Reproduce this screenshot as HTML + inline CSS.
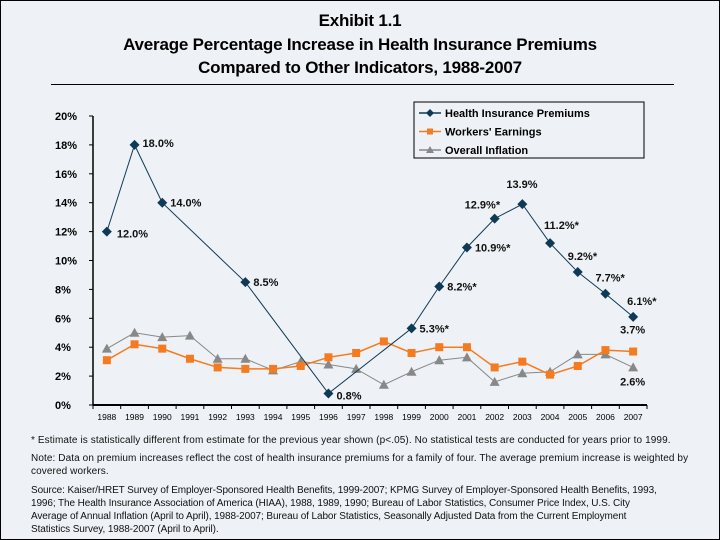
<!DOCTYPE html>
<html><head><meta charset="utf-8"><style>
body{margin:0;background:#fff}
#wrap{position:relative;width:718px;height:538px;border:1px solid #000;background:#eef1f5;font-family:"Liberation Sans",Arial,sans-serif;overflow:hidden}
.t{position:absolute;left:0;width:718px;text-align:center;font-weight:bold;font-size:17px;color:#000;letter-spacing:-0.2px}
.fn{position:absolute;left:30px;width:690px;font-size:10px;line-height:13px;color:#111;letter-spacing:0.1px;white-space:nowrap}
</style></head><body>
<div id="wrap">
<div class="t" style="top:10px">Exhibit 1.1</div>
<div class="t" style="top:34px">Average Percentage Increase in Health Insurance Premiums</div>
<div class="t" style="top:57px">Compared to Other Indicators, 1988-2007</div>
<div style="position:absolute;left:50px;top:83px;width:623px;height:1px;background:#000"></div>
<svg id="chart" width="718" height="430" style="position:absolute;left:0;top:0"></svg>
<div class="fn" style="top:433px">* Estimate is statistically different from estimate for the previous year shown (p&lt;.05). No statistical tests are conducted for years prior to 1999.</div>
<div class="fn" style="top:451px">Note: Data on premium increases reflect the cost of health insurance premiums for a family of four. The average premium increase is weighted by<br>covered workers.</div>
<div class="fn" style="top:483px;letter-spacing:-0.1px">Source: Kaiser/HRET Survey of Employer-Sponsored Health Benefits, 1999-2007; KPMG Survey of Employer-Sponsored Health Benefits, 1993,<br>1996; The Health Insurance Association of America (HIAA), 1988, 1989, 1990; Bureau of Labor Statistics, Consumer Price Index, U.S. City<br>Average of Annual Inflation (April to April), 1988-2007; Bureau of Labor Statistics, Seasonally Adjusted Data from the Current Employment<br>Statistics Survey, 1988-2007 (April to April).</div>
</div>
<script>
const years=[1988,1989,1990,1991,1992,1993,1994,1995,1996,1997,1998,1999,2000,2001,2002,2003,2004,2005,2006,2007];
const premiumYears=[1988,1989,1990,1993,1996,1999,2000,2001,2002,2003,2004,2005,2006,2007];
const premiums=[12.0,18.0,14.0,8.5,0.8,5.3,8.2,10.9,12.9,13.9,11.2,9.2,7.7,6.1];
const premiumStar=[0,0,0,0,0,1,1,1,1,0,1,1,1,1];
const earnings=[3.1,4.2,3.9,3.2,2.6,2.5,2.5,2.7,3.3,3.6,4.4,3.6,4.0,4.0,2.6,3.0,2.1,2.7,3.8,3.7];
const inflation=[3.9,5.0,4.7,4.8,3.2,3.2,2.4,3.0,2.8,2.5,1.4,2.3,3.1,3.3,1.6,2.2,2.3,3.5,3.5,2.6];
const yTicks=[0,2,4,6,8,10,12,14,16,18,20];
// label placement (layout only): dx, dy, anchor
const premLabelPos=[[10,6,'start'],[8,2,'start'],[8,4,'start'],[8,4,'start'],[8,6,'start'],[8,4,'start'],[8,4,'start'],[8,4,'start'],[-30,-10,'start'],[-16,-16,'start'],[-6,-14,'start'],[-10,-12,'start'],[-10,-12,'start'],[-6,-12,'start']];

const NS='http://www.w3.org/2000/svg';
const svg=document.getElementById('chart');
const X0=92,X1=646,Y0=404,Y1=115,YMAX=20;
const band=(X1-X0)/years.length;
const xs=yr=>X0+band*(years.indexOf(yr)+0.5);
const ys=v=>Y0-(v/YMAX)*(Y0-Y1);
function mk(tag,attrs,parent){const e=document.createElementNS(NS,tag);for(const k in attrs)e.setAttribute(k,attrs[k]);(parent||svg).appendChild(e);return e;}

let e=mk('line',{x1:X0,y1:Y1,x2:X0,y2:Y0,stroke:'#000','stroke-width':1.5});


e=mk('line',{x1:X0,y1:Y0,x2:X1,y2:Y0,stroke:'#000','stroke-width':2});


yTicks.forEach(t=>{
  mk('line',{x1:X0-4,y1:ys(t),x2:X0,y2:ys(t),stroke:'#000'});
  const tx=mk('text',{x:X0-38,y:ys(t)+4,'text-anchor':'start','font-size':11,'font-weight':'bold','font-family':'Liberation Sans, sans-serif'});
  tx.textContent=t+'%';
  
  
});
years.forEach((yr,i)=>{
  mk('line',{x1:X0+band*i,y1:Y0,x2:X0+band*i,y2:Y0+4,stroke:'#000'});
  const tx=mk('text',{x:xs(yr),y:Y0+15,'text-anchor':'middle','font-size':8.5,'font-family':'Liberation Sans, sans-serif'});
  tx.textContent=yr;
  
  
});
mk('line',{x1:X1,y1:Y0,x2:X1,y2:Y0+4,stroke:'#000'});

function series(xv,yv,color,name,marker,w){
  const g=mk('g',{});
  
  
  mk('polyline',{points:xv.map((x,i)=>xs(x)+','+ys(yv[i])).join(' '),fill:'none',stroke:color,'stroke-width':w},g);
  xv.forEach((x,i)=>{
    const cx=xs(x),cy=ys(yv[i]);let m;
    if(marker==='d')m=mk('polygon',{points:`${cx},${cy-5} ${cx+5},${cy} ${cx},${cy+5} ${cx-5},${cy}`,fill:color},g);
    else if(marker==='s')m=mk('rect',{x:cx-4,y:cy-4,width:8,height:8,fill:color},g);
    else m=mk('polygon',{points:`${cx},${cy-5} ${cx+5},${cy+4} ${cx-5},${cy+4}`,fill:color},g);
    
    
  });
}
series(years,inflation,'#888888','overall-inflation-series','t',1);
series(years,earnings,'#f47b20','workers-earnings-series','s',1.5);
series(premiumYears,premiums,'#0f3a55','health-premiums-series','d',1);

function lbl(x,y,txt,anchor,name){
  const t=mk('text',{x:x,y:y,'text-anchor':anchor,'font-size':11,'font-weight':'bold','font-family':'Liberation Sans, sans-serif',fill:'#111'});
  t.textContent=txt;
  
  
}
premiumYears.forEach((yr,i)=>{
  const p=premLabelPos[i];
  lbl(xs(yr)+p[0],ys(premiums[i])+p[1],premiums[i].toFixed(1)+'%'+(premiumStar[i]?'*':''),p[2],'premium-value-label');
});
lbl(xs(2007)+12,ys(earnings[19])-18,earnings[19].toFixed(1)+'%','end','earnings-2007-label');
lbl(xs(2007)+12,ys(inflation[19])+18,inflation[19].toFixed(1)+'%','end','inflation-2007-label');

const lg=mk('g',{});


mk('rect',{x:413,y:101,width:230,height:56,fill:'#eef1f5',stroke:'#000','stroke-width':1},lg);
const leg=[['Health Insurance Premiums','#0f3a55','d'],["Workers' Earnings",'#f47b20','s'],['Overall Inflation','#888888','t']];
leg.forEach((L,i)=>{
  const y=112+i*18.5,cx=429;
  mk('line',{x1:cx-11,y1:y,x2:cx+11,y2:y,stroke:L[1],'stroke-width':1.5},lg);
  if(L[2]==='d')mk('polygon',{points:`${cx},${y-4} ${cx+4},${y} ${cx},${y+4} ${cx-4},${y}`,fill:L[1]},lg);
  else if(L[2]==='s')mk('rect',{x:cx-3,y:y-3,width:6,height:6,fill:L[1]},lg);
  else mk('polygon',{points:`${cx},${y-4} ${cx+4},${y+3} ${cx-4},${y+3}`,fill:L[1]},lg);
  const t=mk('text',{x:cx+15,y:y+4,'font-size':11,'font-weight':'bold','font-family':'Liberation Sans, sans-serif'},lg);
  t.textContent=L[0];
  
  
});
</script>
</body></html>
